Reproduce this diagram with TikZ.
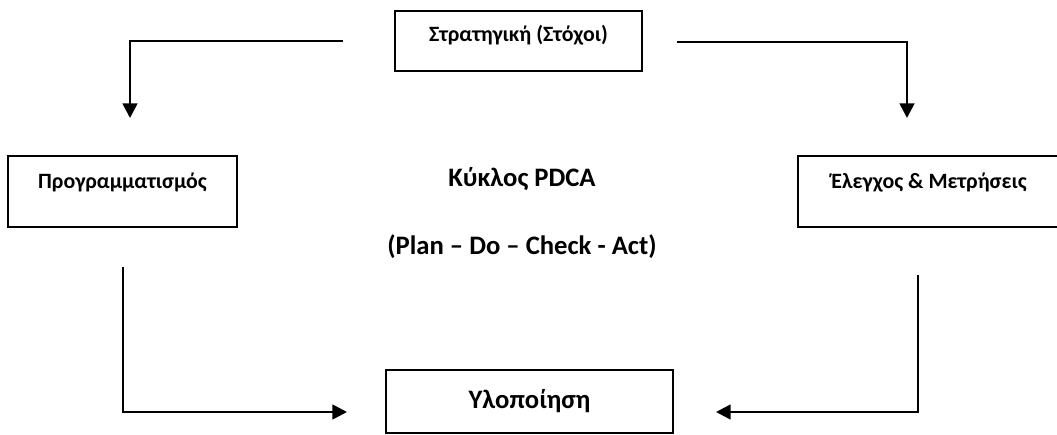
\documentclass[tikz,border=0pt]{standalone}
\usepackage{fontspec}
\setmainfont{Carlito}
\usetikzlibrary{arrows.meta}

\tikzset{box/.style={draw, line width=1.5pt, font=\fontsize{16.4}{19}\selectfont\bfseries, text height=12pt},
  bigtext/.style={font=\fontsize{20}{24}\selectfont\bfseries}}

\begin{document}
\begin{tikzpicture}[x=0.75pt, y=-0.75pt, >={Triangle[width=11pt,length=11pt]}]
\useasboundingbox (0,0) rectangle (1057,435);
\node (strat) at (518.5,41) [box, minimum width=185.25pt, minimum height=45pt, text depth=11pt] {Στρατηγική (Στόχοι)};
\node (plan) at (122.5,191.5) [box, minimum width=171.75pt, minimum height=53.25pt, text depth=16pt] {Προγραμματισμός};
\node (check) at (929,191.5) [box, minimum width=196.5pt, minimum height=53.25pt, text depth=16pt] {Έλεγχος \& Μετρήσεις};
\node (do) at (529.5,401.5) [box, bigtext, minimum width=215.25pt, minimum height=47.25pt, text height=14pt, text depth=4pt] {Υλοποίηση};
\node (pdca) at (522,179) [bigtext] {Κύκλος PDCA};
\node (pdcaact) at (522,247) [bigtext] {(Plan – Do – Check - Act)};
% free ends of the connectors
\coordinate (sl) at (343,41);
\coordinate (pl) at (130,118);
\coordinate (sr) at (677,42);
\coordinate (cr) at (907,118);
\coordinate (pb) at (123,267);
\coordinate (dl) at (347,412);
\coordinate (cb) at (918,275);
\coordinate (dr) at (716,412);
\draw[->, line width=2pt] (sl) -| (pl);
\draw[->, line width=2pt] (sr) -| (cr);
\draw[->, line width=2pt] (pb) |- (dl);
\draw[->, line width=2pt] (cb) |- (dr);
\end{tikzpicture}
\end{document}
